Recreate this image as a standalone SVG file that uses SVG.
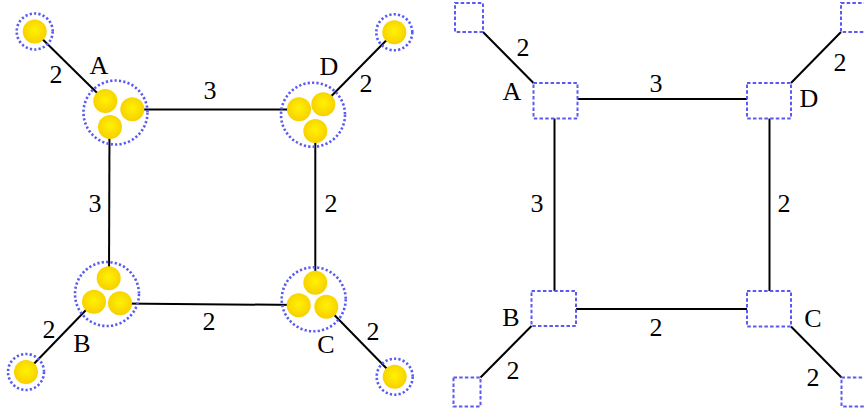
<svg xmlns="http://www.w3.org/2000/svg" width="864" height="412" viewBox="0 0 864 412">
<defs>
<radialGradient id="yg" cx="50%" cy="45%" r="55%">
<stop offset="0" stop-color="#fff200"/>
<stop offset="1" stop-color="#f7cf00"/>
</radialGradient>
</defs>
<style>
.e{stroke:#000;stroke-width:2;fill:none}
.c{fill:none;stroke:#5a5af2;stroke-width:2.6;stroke-dasharray:2.2 2.2}
.r{fill:none;stroke:#5a5af2;stroke-width:2;stroke-dasharray:3.5 2.2}
.d{fill:url(#yg)}
</style>
<rect width="864" height="412" fill="#fff"/>
<g id="connectors">
<line class="e" x1="132.3" y1="109.5" x2="299" y2="109.5"/>
<line class="e" x1="109.5" y1="127" x2="109" y2="278.3"/>
<line class="e" x1="315.3" y1="131" x2="315.3" y2="282.7"/>
<line class="e" x1="120" y1="303.5" x2="298.7" y2="305"/>
<line class="e" x1="34.7" y1="31.5" x2="105.3" y2="101"/>
<line class="e" x1="394.3" y1="32.3" x2="323.3" y2="104.3"/>
<line class="e" x1="26" y1="372" x2="94" y2="301.7"/>
<line class="e" x1="394.7" y1="376.7" x2="326.3" y2="306.7"/>
<line class="e" x1="483" y1="32" x2="533.5" y2="83"/>
<line class="e" x1="577.5" y1="99" x2="747" y2="99"/>
<line class="e" x1="554.5" y1="118.5" x2="554.5" y2="291"/>
<line class="e" x1="769.5" y1="118.5" x2="769.5" y2="291"/>
<line class="e" x1="576" y1="309" x2="747" y2="309"/>
<line class="e" x1="791" y1="83" x2="841" y2="32"/>
<line class="e" x1="480.5" y1="377.5" x2="531.5" y2="326"/>
<line class="e" x1="791" y1="326.5" x2="841.5" y2="377.5"/>
</g>
<g id="L_leafA"><circle class="c" cx="34.7" cy="31.5" r="18"/><circle class="d" cx="34.7" cy="31.5" r="12"/></g>
<g id="L_leafD"><circle class="c" cx="394.3" cy="32.3" r="18"/><circle class="d" cx="394.3" cy="32.3" r="12"/></g>
<g id="L_leafB"><circle class="c" cx="26" cy="372" r="18"/><circle class="d" cx="26" cy="372" r="12"/></g>
<g id="L_leafC"><circle class="c" cx="394.7" cy="376.7" r="18"/><circle class="d" cx="394.7" cy="376.7" r="12"/></g>
<g id="L_A"><circle class="c" cx="115.5" cy="112.5" r="32"/><circle class="d" cx="105.3" cy="101" r="12"/><circle class="d" cx="132.3" cy="109.3" r="12"/><circle class="d" cx="110" cy="127" r="12"/></g>
<g id="L_D"><circle class="c" cx="313" cy="114.7" r="32"/><circle class="d" cx="299" cy="109.3" r="12"/><circle class="d" cx="323.3" cy="104.3" r="12"/><circle class="d" cx="315.3" cy="131" r="12"/></g>
<g id="L_B"><circle class="c" cx="107" cy="294" r="32"/><circle class="d" cx="108.7" cy="278.3" r="12"/><circle class="d" cx="94" cy="301.7" r="12"/><circle class="d" cx="120" cy="303.3" r="12"/></g>
<g id="L_C"><circle class="c" cx="313.7" cy="299.3" r="32"/><circle class="d" cx="315.3" cy="282.7" r="12"/><circle class="d" cx="298.7" cy="305.3" r="12"/><circle class="d" cx="326.3" cy="306.7" r="12"/></g>
<g id="R_leafA"><rect class="r" x="455" y="3" width="28" height="29"/></g>
<g id="R_A"><rect class="r" x="533.5" y="83" width="44" height="35.5"/></g>
<g id="R_D"><rect class="r" x="747" y="83" width="44" height="35.5"/></g>
<g id="R_leafD"><rect class="r" x="841" y="3" width="28" height="29"/></g>
<g id="R_B"><rect class="r" x="531.5" y="291" width="44.5" height="35"/></g>
<g id="R_C"><rect class="r" x="747" y="291" width="44" height="35.5"/></g>
<g id="R_leafB"><rect class="r" x="453.5" y="377.5" width="27" height="29"/></g>
<g id="R_leafC"><rect class="r" x="841.5" y="377.5" width="28" height="29"/></g>
<g id="labels" font-family="Liberation Serif, DejaVu Serif, serif" font-size="26" text-anchor="middle" fill="#000">
<text x="56" y="83">2</text>
<text x="99" y="74">A</text>
<text x="210" y="99">3</text>
<text x="95" y="212">3</text>
<text x="331" y="212">2</text>
<text x="209" y="330">2</text>
<text x="329" y="75">D</text>
<text x="366" y="92">2</text>
<text x="82" y="352">B</text>
<text x="49" y="338">2</text>
<text x="326" y="353">C</text>
<text x="373" y="340">2</text>
<text x="523" y="56">2</text>
<text x="512" y="100">A</text>
<text x="656" y="92">3</text>
<text x="537" y="212">3</text>
<text x="784" y="212">2</text>
<text x="656" y="336">2</text>
<text x="809" y="107">D</text>
<text x="840" y="71">2</text>
<text x="511" y="326">B</text>
<text x="513" y="379">2</text>
<text x="813" y="327">C</text>
<text x="813" y="386">2</text>
</g>
</svg>
